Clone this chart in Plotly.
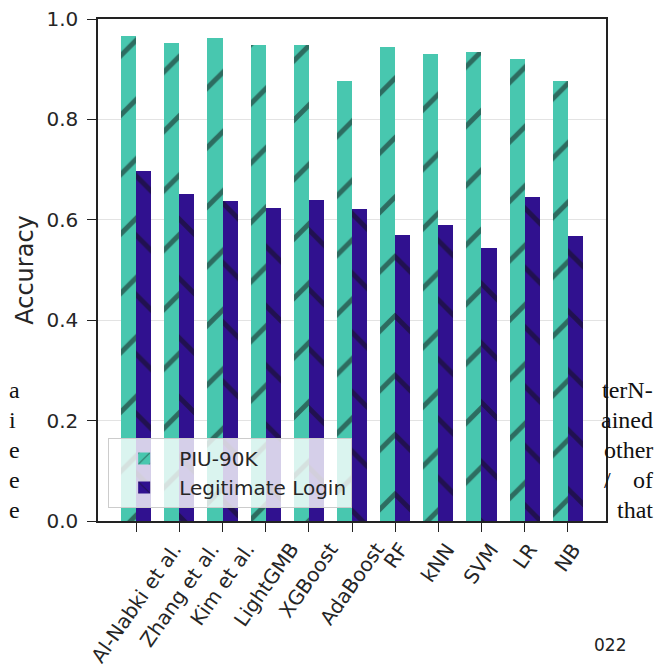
import plotly.graph_objects as go

categories = ["Al-Nabki et al.", "Zhang et al.", "Kim et al.", "LightGMB", "XGBoost",
              "AdaBoost", "RF", "kNN", "SVM", "LR", "NB"]
piu_90k = [0.966, 0.953, 0.962, 0.948, 0.948, 0.877, 0.944, 0.931, 0.934, 0.921, 0.877]
legit_login = [0.697, 0.652, 0.637, 0.624, 0.639, 0.621, 0.570, 0.590, 0.544, 0.646, 0.567]
y_ticks = [0.0, 0.2, 0.4, 0.6, 0.8, 1.0]

# stray page text visible around the figure in the source scan
left_fragments = ["a", "i", "e", "e", "e"]
right_fragments = ["terN-", "ained", "other", "of", "that"]
slash_fragment = "/"
footer_fragment = "022"

GREEN = "#48c7af"
PURPLE = "#30118f"
W = 0.35
FONT = "DejaVu Sans"

idx = list(range(len(categories)))

# page has an 8px body margin; build the figure to fill the rest of the window
OFF = 8
FW, FH = 665 - OFF, 671 - OFF
L, T, PW, PH = 98 - OFF, 19 - OFF, 508, 502

fig = go.Figure()
fig.add_trace(go.Bar(
    x=[i - W / 2 for i in idx], y=piu_90k, width=W, name="PIU-90K",
    marker=dict(color=GREEN, line=dict(width=0),
                pattern=dict(shape="/", fgcolor="#111111", size=42, solidity=0.12)),
))
fig.add_trace(go.Bar(
    x=[i + W / 2 for i in idx], y=legit_login, width=W, name="Legitimate Login",
    marker=dict(color=PURPLE, line=dict(width=0),
                pattern=dict(shape="\\", fgcolor="#111111", size=42, solidity=0.12)),
))

fig.update_layout(
    width=FW, height=FH,
    margin=dict(l=L, r=FW - L - PW, t=T, b=FH - T - PH, autoexpand=False),
    paper_bgcolor="white", plot_bgcolor="white",
    font=dict(family=FONT, size=20, color="#262626"),
    barmode="overlay", bargap=0,
    showlegend=True,
    legend=dict(x=0.02, y=0.026, xanchor="left", yanchor="bottom",
                bgcolor="rgba(255,255,255,0.8)", bordercolor="#cccccc", borderwidth=1,
                font=dict(size=20, family=FONT), traceorder="normal",
                itemwidth=60),
    xaxis=dict(
        range=[-0.885, 10.885], tickmode="array", tickvals=idx, showticklabels=False,
        ticks="outside", ticklen=9, tickcolor="#222", tickwidth=1.4,
        showline=True, linecolor="#222", linewidth=1.5, mirror=True,
        showgrid=False, zeroline=False, automargin=False,
    ),
    yaxis=dict(
        range=[0, 1.0], tickmode="array", tickvals=y_ticks,
        ticktext=[f"{v:.1f}" for v in y_ticks],
        ticks="outside", ticklen=9, tickcolor="#222", tickwidth=1.4,
        ticklabelstandoff=5, ticklabeloverflow="allow",
        showline=True, linecolor="#222", linewidth=1.5, mirror=True,
        showgrid=True, gridcolor="#e3e3e3", gridwidth=1, zeroline=False,
        title=dict(text="Accuracy", standoff=6), automargin=False,
    ),
)

def px_x(p):
    return (p - OFF - L) / PW

def px_y(p):
    return 1 - (p - OFF - T) / PH

# rotated category labels, centred under each tick (matplotlib-style)
for i, c in zip(idx, categories):
    fig.add_annotation(text=c, xref="x", yref="paper", x=i, y=px_y(537),
                       xanchor="center", yanchor="top", textangle=-55, showarrow=False,
                       font=dict(family=FONT, size=20, color="#262626"), borderpad=0)

for k, t in enumerate(left_fragments):
    fig.add_annotation(text=t, xref="paper", yref="paper", x=px_x(8), y=px_y(390 + 30 * k),
                       xanchor="left", yanchor="middle", showarrow=False, borderpad=0,
                       font=dict(family="Liberation Serif", size=24, color="#111"))
right_y = [390, 420, 450, 480, 510]
for t, py in zip(right_fragments, right_y):
    fig.add_annotation(text=t, xref="paper", yref="paper", x=px_x(654), y=px_y(py),
                       xanchor="right", yanchor="middle", showarrow=False, borderpad=0,
                       font=dict(family="Liberation Serif", size=24, color="#111"))
fig.add_annotation(text=slash_fragment, xref="paper", yref="paper", x=px_x(603), y=px_y(480),
                   xanchor="left", yanchor="middle", showarrow=False, borderpad=0,
                   font=dict(family="Liberation Serif", size=24, color="#111"))
fig.add_annotation(text=footer_fragment, xref="paper", yref="paper", x=px_x(593), y=px_y(645),
                   xanchor="left", yanchor="middle", showarrow=False, borderpad=0,
                   font=dict(family=FONT, size=17, color="#222"))

fig.write_html("out.html")
